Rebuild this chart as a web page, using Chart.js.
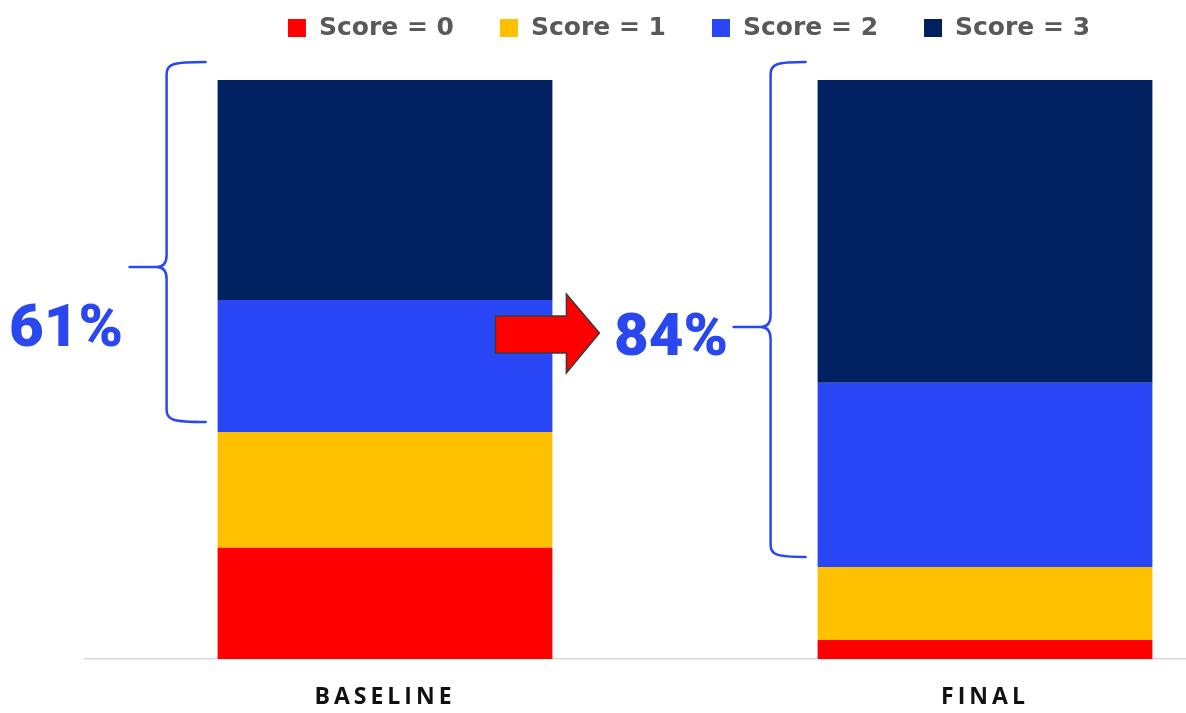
<!DOCTYPE html>
<html>
<head>
<meta charset="utf-8">
<script src="https://cdn.jsdelivr.net/npm/chart.js@4"></script>
<style>
  html, body { margin: 0; padding: 0; background: #fff; overflow: hidden; }
  #wrap { width: 1186px; height: 713px; overflow: hidden; }
</style>
</head>
<body>
<div id="wrap"><canvas id="chart" width="1300" height="713"></canvas></div>
<script>
// ===== data =====
const CATEGORIES = ['BASELINE', 'FINAL'];
const SERIES_LABELS = ['Score = 0', 'Score = 1', 'Score = 2', 'Score = 3'];
const SERIES_COLORS = ['#ff0000', '#ffc000', '#2947f6', '#002060'];
const SCORE_0 = [19.2, 3.3];
const SCORE_1 = [20.0, 12.6];
const SCORE_2 = [22.8, 31.8];
const SCORE_3 = [38.0, 52.3];
const SERIES_VALUES = [SCORE_0, SCORE_1, SCORE_2, SCORE_3];

const ACCENT = '#2b48f0';

// share of score 2 + score 3 per bar
const topShare = CATEGORIES.map((c, i) => SCORE_2[i] + SCORE_3[i]);

// custom legend, braces, arrow, percentages
const overlay = {
  id: 'overlay',
  beforeDraw(chart) {
    chart.ctx.letterSpacing = '4px';   // spaced axis labels
  },
  beforeDatasetsDraw(chart) {
    chart.ctx.letterSpacing = '0px';
  },
  afterDraw(chart) {
    const ctx = chart.ctx;
    const yScale = chart.scales.y;
    const bars = chart.getDatasetMeta(0).data;
    ctx.save();
    ctx.letterSpacing = '0px';

    // legend
    ctx.font = 'bold 25px "DejaVu Sans"';
    ctx.textBaseline = 'middle';
    ctx.textAlign = 'left';
    const BOX = 18, GAP = 13, SPACE = 46;
    const widths = SERIES_LABELS.map(t => ctx.measureText(t).width);
    const total = widths.reduce((s, w) => s + BOX + GAP + w, 0) + SPACE * (widths.length - 1);
    let lx = 689 - total / 2;
    SERIES_LABELS.forEach((t, i) => {
      ctx.fillStyle = SERIES_COLORS[i];
      ctx.fillRect(lx, 19, BOX, BOX);
      ctx.fillStyle = '#595959';
      ctx.fillText(t, lx + BOX + GAP, 28);
      lx += BOX + GAP + widths[i] + SPACE;
    });

    // braces
    const spec = [
      { dx: -51, tipY: 267, tx: 66, ty: 346 },
      { dx: -47, tipY: 327, tx: 671, ty: 355 }
    ];
    ctx.strokeStyle = ACCENT;
    ctx.lineWidth = 2.5;
    ctx.lineCap = 'round';
    bars.forEach((bar, i) => {
      const left = bar.x - bar.width / 2;
      const xv = left + spec[i].dx;
      const xe = left - 12;
      const top = yScale.getPixelForValue(100) - 18;
      const bottom = yScale.getPixelForValue(SCORE_0[i] + SCORE_1[i]) - 10;
      const tipY = spec[i].tipY;
      const tipX = xv - 37;
      ctx.beginPath();
      ctx.moveTo(xe, top);
      ctx.bezierCurveTo(xv + 6, top, xv, top + 2, xv, top + 12);
      ctx.lineTo(xv, tipY - 12);
      ctx.bezierCurveTo(xv, tipY - 3, xv - 4, tipY, xv - 10, tipY);
      ctx.lineTo(tipX, tipY);
      ctx.moveTo(xv - 10, tipY);
      ctx.bezierCurveTo(xv - 4, tipY, xv, tipY + 3, xv, tipY + 12);
      ctx.lineTo(xv, bottom - 12);
      ctx.bezierCurveTo(xv, bottom - 2, xv + 6, bottom, xe, bottom);
      ctx.stroke();

      ctx.fillStyle = ACCENT;
      ctx.font = '900 60px Roboto';
      ctx.textAlign = 'center';
      ctx.textBaseline = 'alphabetic';
      ctx.fillText(Math.round(topShare[i]) + '%', spec[i].tx, spec[i].ty);
    });

    // arrow between the bars
    const r0 = bars[0].x + bars[0].width / 2;
    const ay = 333;
    ctx.beginPath();
    ctx.moveTo(r0 - 57, ay - 17);
    ctx.lineTo(r0 + 14, ay - 17);
    ctx.lineTo(r0 + 14, ay - 39);
    ctx.lineTo(r0 + 47, ay);
    ctx.lineTo(r0 + 14, ay + 40);
    ctx.lineTo(r0 + 14, ay + 20);
    ctx.lineTo(r0 - 57, ay + 20);
    ctx.closePath();
    ctx.fillStyle = '#ff0000';
    ctx.fill();
    ctx.strokeStyle = '#3a3a3a';
    ctx.lineWidth = 1.5;
    ctx.lineJoin = 'miter';
    ctx.stroke();

    ctx.restore();
  }
};

new Chart(document.getElementById('chart'), {
  type: 'bar',
  data: {
    labels: CATEGORIES,
    datasets: SERIES_LABELS.map((label, i) => ({
      label,
      data: SERIES_VALUES[i],
      backgroundColor: SERIES_COLORS[i],
      borderWidth: 0,
      barPercentage: 0.558,
      categoryPercentage: 1
    }))
  },
  options: {
    responsive: false,
    animation: false,
    layout: { padding: { top: 80, left: 85, right: 15, bottom: 0 } },
    plugins: {
      legend: { display: false },
      tooltip: { enabled: false }
    },
    scales: {
      x: {
        stacked: true,
        offset: true,
        afterFit(scale) { scale.height = 54; },
        grid: { display: false, drawTicks: false },
        border: { display: true, color: '#d9d9d9', width: 1.5 },
        ticks: {
          color: '#111',
          padding: 25,
          maxRotation: 0,
          autoSkip: false,
          font: { family: '"Open Sans"', size: 23, weight: 'bold' }
        }
      },
      y: {
        stacked: true,
        display: false,
        min: 0,
        max: 100
      }
    }
  },
  plugins: [overlay]
});
</script>
</body>
</html>
